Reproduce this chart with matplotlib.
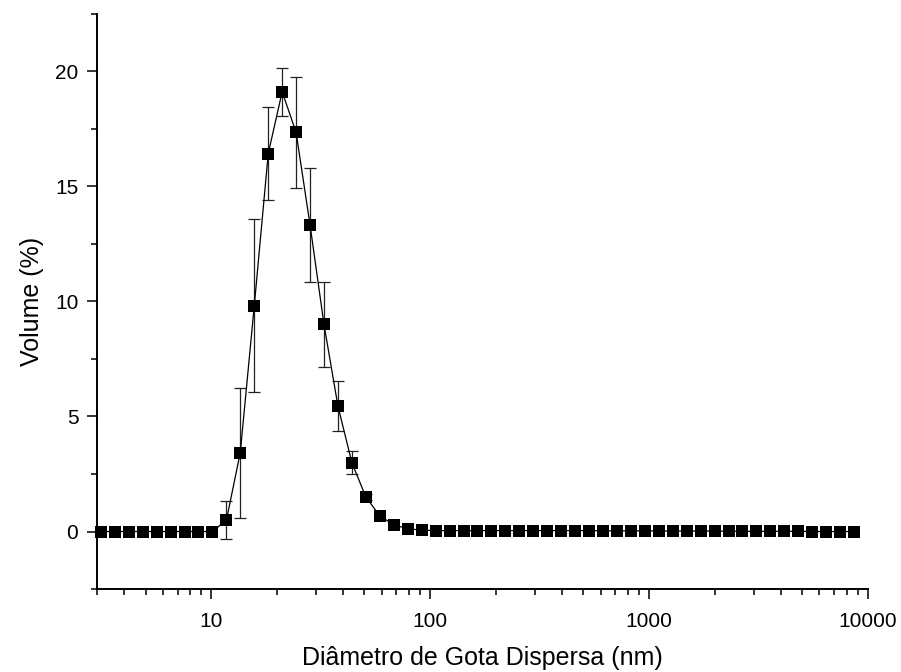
import numpy as np
import matplotlib
matplotlib.use("Agg")
import matplotlib.pyplot as plt
from matplotlib.ticker import MultipleLocator, LogLocator, NullFormatter, FixedLocator

plt.rcParams['font.family'] = ['Liberation Sans', 'DejaVu Sans']

# size classes (nm)
diameter = [3.122, 3.615, 4.187, 4.849, 5.615, 6.503, 7.531, 8.721,
            10.10, 11.70, 13.54, 15.69, 18.17, 21.04, 24.36, 28.21, 32.67, 37.84,
            43.82, 50.75, 58.77, 68.06, 78.82, 91.28,
            105.7, 122.4, 141.8, 164.2, 190.1, 220.2, 255.0, 295.3, 342.0, 396.1,
            458.7, 531.2, 615.1, 712.4, 825.0, 955.4,
            1106, 1281, 1484, 1718, 1990, 2305, 2669, 3091, 3580, 4145, 4801,
            5560, 6439, 7456, 8635]

volume = [0, 0, 0, 0, 0, 0, 0, 0,
          0, 0.49, 3.43, 9.82, 16.43, 19.12, 17.35, 13.33, 9.0, 5.45,
          2.99, 1.5, 0.68, 0.29, 0.12, 0.06,
          0.04, 0.04, 0.04, 0.04, 0.04, 0.04, 0.04, 0.04, 0.04, 0.04,
          0.04, 0.04, 0.03, 0.03, 0.03, 0.03,
          0.02, 0.02, 0.02, 0.02, 0.02, 0.01, 0.01, 0.01, 0.01, 0.01, 0.01,
          0, 0, 0, 0]

error = [0, 0, 0, 0, 0, 0, 0, 0,
         0, 0.83, 2.83, 3.77, 2.02, 1.05, 2.42, 2.47, 1.86, 1.09,
         0.49, 0.15, 0, 0, 0, 0,
         0, 0, 0, 0, 0, 0, 0, 0, 0, 0,
         0, 0, 0, 0, 0, 0,
         0, 0, 0, 0, 0, 0, 0, 0, 0, 0, 0,
         0, 0, 0, 0]

x = np.array(diameter)
y = np.array(volume)
e = np.array(error)
has_err = e > 0

fig = plt.figure(figsize=(9.01, 6.72), dpi=100)
ax = fig.add_axes([0.1077, 0.1235, 0.8557, 0.8557])

# error bars
ax.errorbar(x[has_err], y[has_err], yerr=e[has_err], fmt='none', ecolor='#222222',
            elinewidth=0.9, capsize=4, capthick=0.9, zorder=2)
# line + markers
ax.plot(x, y, '-', color='black', lw=0.9, zorder=3)
ax.plot(x, y, 's', color='black', ms=8.4, mew=0, zorder=4, clip_on=False)

ax.set_xscale('log')
ax.set_xlim(3, 10000)
ax.set_ylim(-2.5, 22.5)

ax.xaxis.set_major_locator(FixedLocator([10, 100, 1000, 10000]))
ax.xaxis.set_major_formatter(plt.FuncFormatter(lambda v, p: '%d' % v))
ax.xaxis.set_minor_locator(LogLocator(base=10, subs=np.arange(2, 10)))
ax.xaxis.set_minor_formatter(NullFormatter())
ax.yaxis.set_major_locator(FixedLocator([0, 5, 10, 15, 20]))
ax.yaxis.set_minor_locator(MultipleLocator(2.5))

for side in ['top', 'right']:
    ax.spines[side].set_visible(False)
for side in ['left', 'bottom']:
    ax.spines[side].set_linewidth(1.4)

ax.tick_params(which='major', direction='out', length=7.5, width=1.1, labelsize=15)
ax.tick_params(axis='x', which='major', pad=9)
ax.tick_params(axis='y', which='major', pad=6)
ax.tick_params(which='minor', direction='out', length=4.5, width=1.1)

ax.set_xlabel('Diâmetro de Gota Dispersa (nm)', fontsize=18, labelpad=11)
ax.set_ylabel('Volume (%)', fontsize=18, labelpad=8)

plt.savefig('out.png', dpi=100)
